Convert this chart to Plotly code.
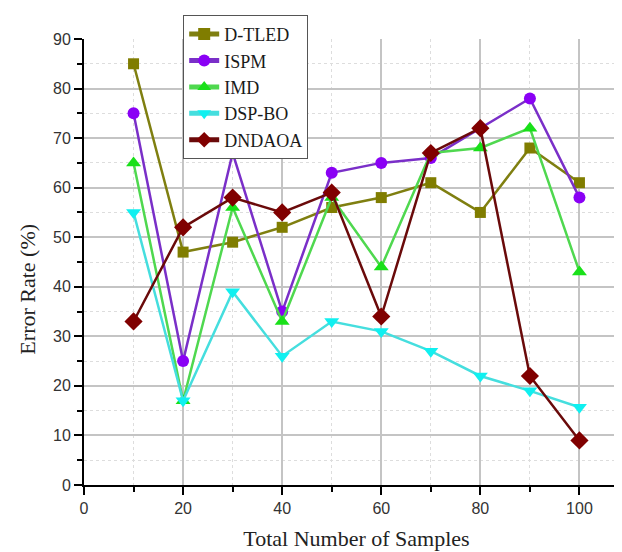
import plotly.graph_objects as go

samples = [10, 20, 30, 40, 50, 60, 70, 80, 90, 100]
d_tled = [85, 47, 49, 52, 56, 58, 61, 55, 68, 61]
ispm = [75, 25, 67, 35, 63, 65, 66, 72, 78, 58]
imd = [65, 17, 56, 33, 58, 44, 67, 68, 72, 43]
dsp_bo = [55, 17, 39, 26, 33, 31, 27, 22, 19, 15.7]
dndaoa = [33, 52, 58, 55, 59, 34, 67, 72, 22, 9]

series = [
    ("D-TLED", d_tled, "#7f7f10", "#807d00", "square", 11),
    ("ISPM", ispm, "#7a2fc8", "#8a00f5", "circle", 12),
    ("IMD", imd, "#4fd84f", "#19e019", "triangle-up", 13),
    ("DSP-BO", dsp_bo, "#45dede", "#10f0f0", "triangle-down", 13),
    ("DNDAOA", dndaoa, "#6a0a0a", "#800000", "diamond", 14),
]

fig = go.Figure()
for name, vals, lc, mc, sym, sz in series:
    fig.add_trace(go.Scatter(
        x=samples, y=vals, name=name, mode="lines+markers",
        line=dict(color=lc, width=2.5),
        marker=dict(symbol=sym, size=sz, color=mc, line=dict(width=0)),
    ))

serif = "Liberation Serif, Times New Roman, serif"
sans = "Liberation Sans, Arial, sans-serif"

fig.update_layout(
    width=622, height=552,
    margin=dict(l=76, r=1, t=31, b=75),
    paper_bgcolor="white", plot_bgcolor="white",
    showlegend=True,
    legend=dict(
        x=0.182, y=1.054, xanchor="left", yanchor="top",
        bgcolor="white", bordercolor="#555555", borderwidth=1,
        font=dict(family=serif, size=18, color="#1a1a1a"),
        itemsizing="constant", tracegroupgap=0,
    ),
    xaxis=dict(
        range=[0, 110], dtick=20, tick0=0,
        showline=True, linecolor="black", linewidth=2,
        ticks="outside", ticklen=8, tickwidth=2, tickcolor="black",
        tickfont=dict(family=sans, size=16, color="#333333"),
        showgrid=True, gridcolor="#c4c4c4", gridwidth=1.5,
        zeroline=False,
        minor=dict(dtick=10, tick0=0, showgrid=True, gridcolor="#dddddd",
                   griddash="dot", gridwidth=1, ticks="outside", ticklen=5,
                   tickwidth=2, tickcolor="black"),
        title=dict(text="Total Number of Samples", standoff=14,
                   font=dict(family=serif, size=22, color="#222222")),
    ),
    yaxis=dict(
        range=[0, 90], dtick=10, tick0=0,
        showline=True, linecolor="black", linewidth=2,
        ticks="outside", ticklen=8, tickwidth=2, tickcolor="black",
        tickfont=dict(family=sans, size=16, color="#333333"),
        showgrid=True, gridcolor="#c4c4c4", gridwidth=1.5,
        zeroline=False,
        minor=dict(dtick=5, tick0=0, showgrid=True, gridcolor="#dddddd",
                   griddash="dot", gridwidth=1, ticks="outside", ticklen=5,
                   tickwidth=2, tickcolor="black"),
    ),
    annotations=[dict(
        text="Error Rate (%)", xref="paper", yref="paper",
        x=-0.103, y=0.44, xanchor="center", yanchor="middle",
        textangle=-90, showarrow=False,
        font=dict(family=serif, size=22, color="#222222"),
    )],
)

fig.write_html("out.html")
